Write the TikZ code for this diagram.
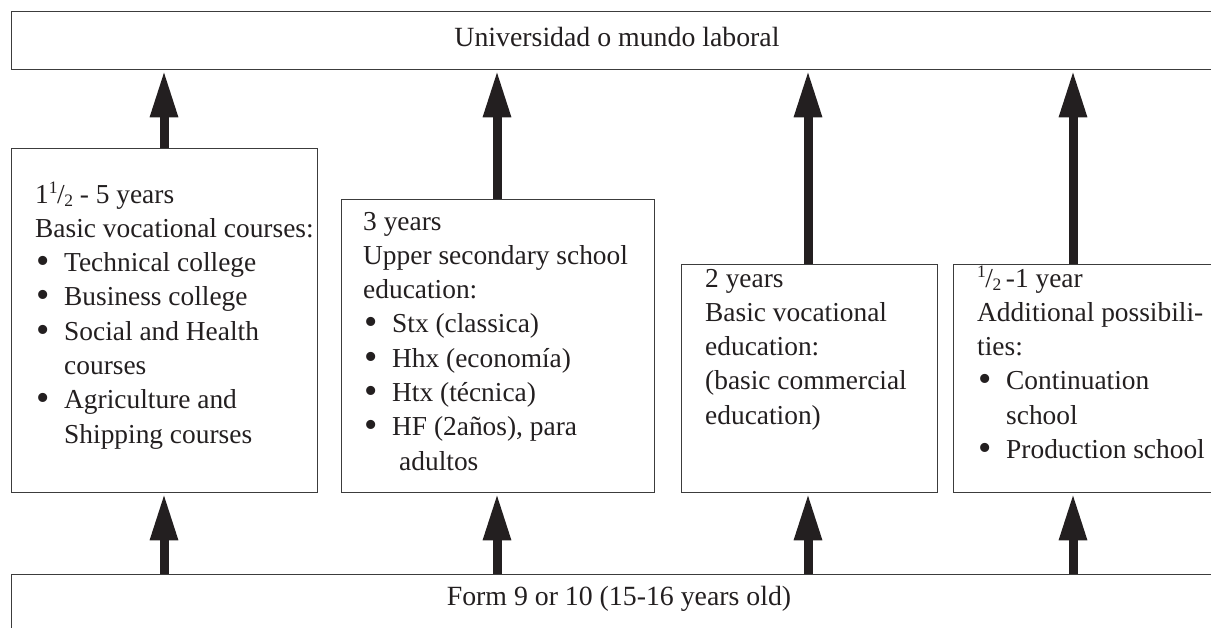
\documentclass[tikz,border=0pt]{standalone}
\usepackage{fontspec}
\setmainfont{Liberation Serif}
\usetikzlibrary{arrows.meta}
\definecolor{ink}{HTML}{231F20}
\definecolor{frame}{HTML}{3C3C3C}
% bullet item and continuation indent
\newcommand{\itm}{\makebox[29pt][l]{\hspace{1pt}\smash{\raisebox{-0.07em}{\fontsize{38}{38}\selectfont\textbullet}}}}
\newcommand{\cont}{\hspace{29pt}}
% built-up one half
\newcommand{\onehalf}{\raisebox{0.36em}{\fontsize{17.5}{17.5}\selectfont 1}\kern-0.5pt/\kern-0.5pt\raisebox{-0.12em}{\fontsize{17.5}{17.5}\selectfont 2}}
\begin{document}
\begin{tikzpicture}[x=1pt,y=-1pt,
  box/.style={draw=frame,line width=1.4pt,fill=white,rectangle,inner sep=0pt,anchor=north west},
  lines/.style={anchor=base west,inner sep=0pt,text=ink,font=\fontsize{27.4}{34.3}\selectfont},
  label/.style={anchor=base,inner sep=0pt,text=ink,font=\fontsize{27.8}{34}\selectfont},
  up/.style={draw=ink,line width=9pt,-{Triangle[length=47pt,width=26pt]}}]
\useasboundingbox (0,0) rectangle (1211,627);
\clip (0,0) rectangle (1211,627);

% top and bottom bands
\node[box,minimum width=1230pt,minimum height=58pt] (top) at (11,11) {};
\node[box,minimum width=1230pt,minimum height=70pt] (bottom) at (11,574) {};
\node[label] (toptext) at (617,46) {Universidad o mundo laboral};
\node[label] (bottext) at (619,605) {Form 9 or 10 (15-16 years old)};

% four routes
\node[box,minimum width=306pt,minimum height=344pt] (b1) at (11,148) {};
\node[box,minimum width=313pt,minimum height=293pt] (b2) at (341,199) {};
\node[box,minimum width=256pt,minimum height=228pt] (b3) at (681,264) {};
\node[box,minimum width=300pt,minimum height=228pt] (b4) at (953,264) {};

\node[lines] (t1) at (35,203) {\begin{tabular}[t]{@{}l@{}}
1\onehalf\ - 5 years\\
Basic vocational courses:\\
\itm Technical college\\
\itm Business college\\
\itm Social and Health\\
\cont courses\\
\itm Agriculture and\\
\cont Shipping courses
\end{tabular}};

\node[lines] (t2) at (363,230) {\begin{tabular}[t]{@{}l@{}}
3 years\\
Upper secondary school\\
education:\\
\itm Stx (classica)\\
\itm Hhx (economía)\\
\itm Htx (técnica)\\
\itm HF (2años), para\\
\hspace{36pt}adultos
\end{tabular}};

\node[lines] (t3) at (705,287) {\begin{tabular}[t]{@{}l@{}}
2 years\\
Basic vocational\\
education:\\
(basic commercial\\
education)
\end{tabular}};

\node[lines] (t4) at (977,287) {\begin{tabular}[t]{@{}l@{}}
\onehalf\,-1 year\\
Additional possibili-\\
ties:\\
\itm Continuation\\
\cont school\\
\itm Production school
\end{tabular}};

% arrows into the upper band
\draw[up] (b1.north -| 164,0) -- (top.south -| 164,0);
\draw[up] (b2.north -| 497,0) -- (top.south -| 497,0);
\draw[up] (b3.north -| 808,0) -- (top.south -| 808,0);
\draw[up] (b4.north -| 1073,0) -- (top.south -| 1073,0);

% arrows from the lower band
\draw[up] (bottom.north -| 164,0) -- (b1.south -| 164,0);
\draw[up] (bottom.north -| 497,0) -- (b2.south -| 497,0);
\draw[up] (bottom.north -| 808,0) -- (b3.south -| 808,0);
\draw[up] (bottom.north -| 1073,0) -- (b4.south -| 1073,0);
\end{tikzpicture}
\end{document}
